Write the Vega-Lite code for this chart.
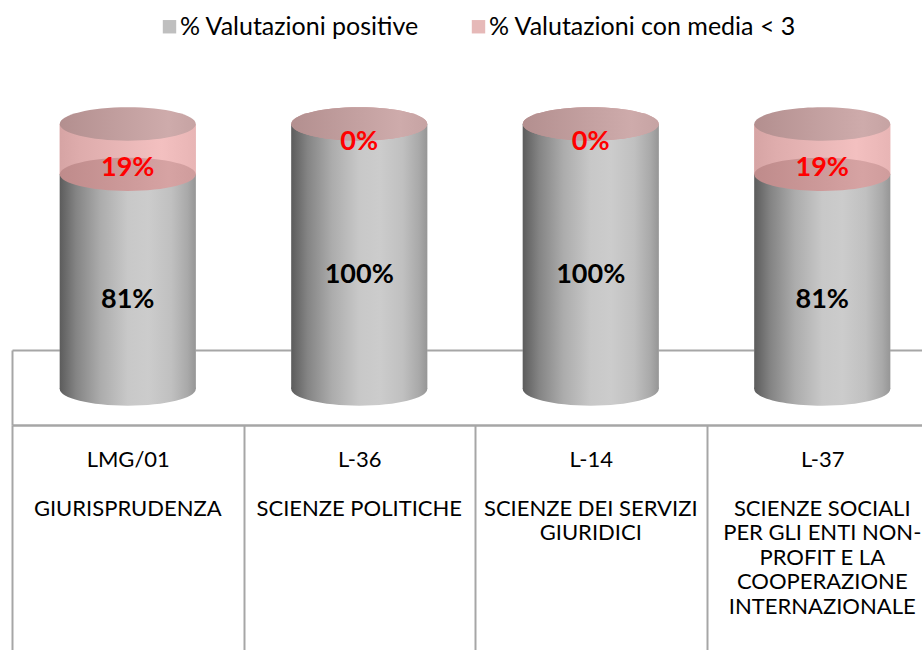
{
  "$schema": "https://vega.github.io/schema/vega-lite/v6.json",
  "width": 910,
  "height": 75,
  "autosize": {"type": "none"},
  "padding": {"left": 12, "top": 350, "right": 0, "bottom": 225},
  "background": "white",
  "config": {"view": {"stroke": null}, "font": "Lato"},
  "data": {
    "values": [
      {"corso": "LMG/01\nGIURISPRUDENZA", "serie": "% Valutazioni positive", "value": 0.81},
      {"corso": "LMG/01\nGIURISPRUDENZA", "serie": "% Valutazioni con media < 3", "value": 0.19},
      {"corso": "L-36\nSCIENZE POLITICHE", "serie": "% Valutazioni positive", "value": 1.0},
      {"corso": "L-36\nSCIENZE POLITICHE", "serie": "% Valutazioni con media < 3", "value": 0.0},
      {"corso": "L-14\nSCIENZE DEI SERVIZI\nGIURIDICI", "serie": "% Valutazioni positive", "value": 1.0},
      {"corso": "L-14\nSCIENZE DEI SERVIZI\nGIURIDICI", "serie": "% Valutazioni con media < 3", "value": 0.0},
      {"corso": "L-37\nSCIENZE SOCIALI\nPER GLI ENTI NON-\nPROFIT E LA\nCOOPERAZIONE\nINTERNAZIONALE", "serie": "% Valutazioni positive", "value": 0.81},
      {"corso": "L-37\nSCIENZE SOCIALI\nPER GLI ENTI NON-\nPROFIT E LA\nCOOPERAZIONE\nINTERNAZIONALE", "serie": "% Valutazioni con media < 3", "value": 0.19}
    ]
  },
  "transform": [
    {"stack": "value", "groupby": ["corso"], "sort": [{"field": "serie", "order": "descending"}], "as": ["v0", "v1"]}
  ],
  "resolve": {"axis": {"x": "independent"}},
  "layer": [
    {
      "mark": {"type": "bar", "width": 136},
      "encoding": {
        "x": {
          "field": "corso", "type": "nominal", "sort": null,
          "scale": {"range": [0, 926], "paddingInner": 0, "paddingOuter": 0},
          "axis": {
            "orient": "bottom",
            "title": null,
            "labelExpr": "split(datum.label, '\\n')[0]",
            "labelAngle": 0,
            "labelFont": "Lato",
            "labelFontSize": 22,
            "labelFontWeight": "normal",
            "labelColor": "#000000",
            "labelBaseline": "top",
            "labelPadding": -201,
            "labelLimit": 260,
            "labelOverlap": false,
            "tickBand": "extent",
            "tickSize": 225,
            "tickWidth": 2,
            "tickColor": "#a6a6a6",
            "domainColor": "#a6a6a6",
            "domainWidth": 2.5,
            "grid": false
          }
        },
        "y": {
          "field": "v1", "type": "quantitative",
          "scale": {"domain": [-0.1358, 0.1472], "nice": false, "zero": false},
          "axis": {
            "title": null, "domain": true, "domainColor": "#a6a6a6", "domainWidth": 2,
            "ticks": false, "labels": false, "grid": true, "values": [0.1472],
            "gridColor": "#a6a6a6", "gridWidth": 2, "gridOpacity": 1
          }
        },
        "y2": {"field": "v0"},
        "color": {
          "field": "serie", "type": "nominal",
          "scale": {"domain": ["% Valutazioni positive", "% Valutazioni con media < 3"], "range": ["#BFBFBF", "#E6B9B8"]},
          "legend": {
            "title": null, "orient": "none", "direction": "horizontal",
            "legendX": 145, "legendY": -336, "padding": 0,
            "symbolType": "square", "symbolSize": 180, "symbolStrokeWidth": 0,
            "labelFont": "Lato", "labelFontSize": 25, "labelColor": "#000000",
            "labelOffset": -2, "columnPadding": 46, "labelLimit": 400
          }
        }
      }
    },
    {
      "transform": [{"filter": "datum.serie === '% Valutazioni positive'"}],
      "mark": {
        "type": "point", "filled": true, "opacity": 1, "strokeWidth": 0, "size": 18496,
        "shape": "M-1,0C-1,-0.1353,-0.5523,-0.245,0,-0.245C0.5523,-0.245,1,-0.1353,1,0C1,0.1353,0.5523,0.245,0,0.245C-0.5523,0.245,-1,0.1353,-1,0Z",
        "fill": {"gradient": "linear", "x1": 0, "y1": 0, "x2": 1, "y2": 0, "stops": [
          {"offset": 0, "color": "#5c5c5c"}, {"offset": 0.12, "color": "#848484"}, {"offset": 0.3, "color": "#acacac"},
          {"offset": 0.5, "color": "#c8c8c8"}, {"offset": 0.65, "color": "#cccccc"}, {"offset": 0.82, "color": "#c0c0c0"},
          {"offset": 0.94, "color": "#a9a9a9"}, {"offset": 1, "color": "#969696"}]}
      },
      "encoding": {
        "x": {"field": "corso", "type": "nominal", "sort": null, "axis": null},
        "y": {"field": "v0", "type": "quantitative"}
      }
    },
    {
      "transform": [{"filter": "datum.serie === '% Valutazioni positive'"}],
      "mark": {
        "type": "bar", "width": 136,
        "fill": {"gradient": "linear", "x1": 0, "y1": 0, "x2": 1, "y2": 0, "stops": [
          {"offset": 0, "color": "#5c5c5c"}, {"offset": 0.12, "color": "#848484"}, {"offset": 0.3, "color": "#acacac"},
          {"offset": 0.5, "color": "#c8c8c8"}, {"offset": 0.65, "color": "#cccccc"}, {"offset": 0.82, "color": "#c0c0c0"},
          {"offset": 0.94, "color": "#a9a9a9"}, {"offset": 1, "color": "#969696"}]}
      },
      "encoding": {
        "x": {"field": "corso", "type": "nominal", "sort": null, "axis": null},
        "y": {"field": "v1", "type": "quantitative"},
        "y2": {"field": "v0"}
      }
    },
    {
      "transform": [{"filter": "datum.serie === '% Valutazioni con media < 3'"}],
      "mark": {
        "type": "bar", "width": 136,
        "fill": {"gradient": "linear", "x1": 0, "y1": 0, "x2": 1, "y2": 0, "stops": [
          {"offset": 0, "color": "#d6a4a4"}, {"offset": 0.15, "color": "#deacac"}, {"offset": 0.5, "color": "#eab8b8"},
          {"offset": 0.75, "color": "#f3c0c0"}, {"offset": 1, "color": "#e8b5b5"}]}
      },
      "encoding": {
        "x": {"field": "corso", "type": "nominal", "sort": null, "axis": null},
        "y": {"field": "v1", "type": "quantitative"},
        "y2": {"field": "v0"}
      }
    },
    {
      "transform": [{"filter": "datum.serie === '% Valutazioni positive'"}],
      "mark": {
        "type": "point", "filled": true, "opacity": 1, "strokeWidth": 0, "size": 18496,
        "shape": "M-1,0C-1,-0.1353,-0.5523,-0.245,0,-0.245C0.5523,-0.245,1,-0.1353,1,0C1,0.1353,0.5523,0.245,0,0.245C-0.5523,0.245,-1,0.1353,-1,0Z",
        "fill": {"gradient": "linear", "x1": 0, "y1": 0, "x2": 1, "y2": 0, "stops": [
          {"offset": 0, "color": "#bf8b8b"}, {"offset": 0.5, "color": "#cd9a9a"}, {"offset": 0.8, "color": "#d6a3a3"}, {"offset": 1, "color": "#cf9c9c"}]}
      },
      "encoding": {
        "x": {"field": "corso", "type": "nominal", "sort": null, "axis": null},
        "y": {"field": "v1", "type": "quantitative"}
      }
    },
    {
      "transform": [{"filter": "datum.serie === '% Valutazioni con media < 3'"}],
      "mark": {
        "type": "point", "filled": true, "opacity": 1, "strokeWidth": 0, "size": 18496,
        "shape": "M-1,0C-1,-0.1353,-0.5523,-0.245,0,-0.245C0.5523,-0.245,1,-0.1353,1,0C1,0.1353,0.5523,0.245,0,0.245C-0.5523,0.245,-1,0.1353,-1,0Z",
        "fill": {"gradient": "linear", "x1": 0, "y1": 0, "x2": 1, "y2": 0, "stops": [
          {"offset": 0, "color": "#b38f8f"}, {"offset": 0.5, "color": "#c4a1a1"}, {"offset": 0.8, "color": "#ceabab"}, {"offset": 1, "color": "#c6a3a3"}]}
      },
      "encoding": {
        "x": {"field": "corso", "type": "nominal", "sort": null, "axis": null},
        "y": {"field": "v1", "type": "quantitative"}
      }
    },
    {
      "mark": {"type": "text", "font": "Lato", "fontWeight": "bold", "fontSize": 27, "baseline": "middle", "align": "center", "dy": 18.5},
      "encoding": {
        "x": {
          "field": "corso", "type": "nominal", "sort": null,
          "axis": {
            "orient": "bottom",
            "title": null,
            "labelExpr": "slice(split(datum.label, '\\n'), 1)",
            "labelAngle": 0,
            "labelFont": "Lato",
            "labelFontSize": 22,
            "labelFontWeight": "normal",
            "labelColor": "#000000",
            "labelLineHeight": 24.5,
            "labelBaseline": "top",
            "labelPadding": 73,
            "labelLimit": 260,
            "labelOverlap": false,
            "ticks": false,
            "domain": false,
            "grid": false
          }
        },
        "y": {"field": "value", "type": "quantitative", "stack": "zero", "bandPosition": 0.5},
        "detail": {"field": "serie"},
        "order": {"field": "serie", "sort": "descending"},
        "text": {"field": "value", "type": "quantitative", "format": ".0%"},
        "fill": {"condition": {"test": "datum.serie === '% Valutazioni con media < 3'", "value": "#FF0000"}, "value": "#000000"}
      }
    }
  ]
}
